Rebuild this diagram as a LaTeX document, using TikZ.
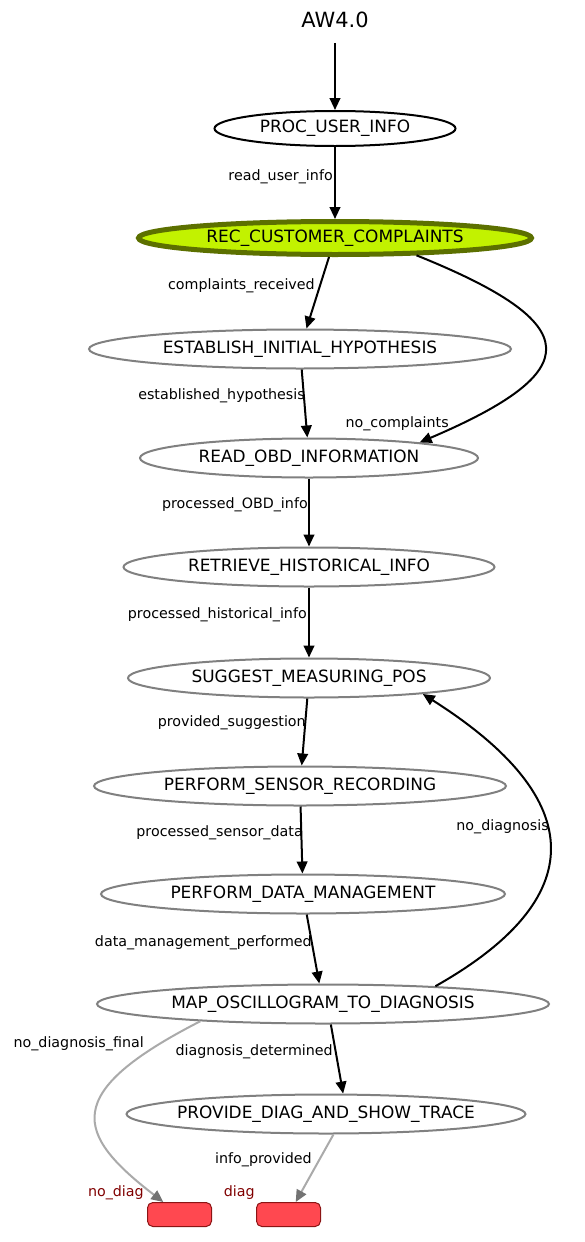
\documentclass[tikz,border=0pt]{standalone}
\usepackage{fontspec}
\setmainfont{DejaVu Sans}
\usetikzlibrary{shapes.geometric,arrows.meta}
\definecolor{limefill}{RGB}{194,242,0}
\definecolor{limeedge}{RGB}{92,112,0}
\definecolor{stategray}{RGB}{128,128,128}
\definecolor{edgegray}{RGB}{170,170,170}
\definecolor{headgray}{RGB}{115,115,115}
\definecolor{endfill}{RGB}{255,72,80}
\definecolor{endedge}{RGB}{139,20,20}
\definecolor{endtext}{RGB}{128,0,0}
\newcommand{\nm}[1]{\makebox[0pt]{#1}}

\begin{document}
\begin{tikzpicture}[x=0.75pt, y=-0.75pt,
        state/.style={ellipse, draw=stategray, line width=1.5pt, minimum height=29.25pt, inner sep=0pt, font=\fontsize{12.7}{15}\selectfont},
        start/.style={state, draw=black},
        active/.style={state, draw=limeedge, fill=limefill, line width=3.75pt, minimum height=24.75pt},
        endbox/.style={rectangle, draw=endedge, fill=endfill, line width=0.75pt, rounded corners=4pt, minimum width=48pt, minimum height=18pt, inner sep=0pt},
        arrow/.style={line width=1.5pt, -{Triangle[length=9pt, width=8pt]}},
        grayarrow/.style={line width=1.5pt, draw=edgegray, -{Triangle[length=9pt, width=8pt, color=headgray]}},
        elabel/.style={font=\fontsize{10.7}{13}\selectfont, inner sep=0pt, anchor=base east},
        endlabel/.style={elabel, text=endtext}
    ]
        \useasboundingbox (0,0) rectangle (585,1242);

        \node[font=\fontsize{15.7}{19}\selectfont, inner sep=0pt] (title) at (335,20) {AW4.0};
        \node[start, minimum width=180.75pt, minimum height=26.25pt] (proc) at (335,128.5) {\nm{PROC\_USER\_INFO}};
        \node[active, minimum width=294.75pt] (rec) at (335,238) {\nm{REC\_CUSTOMER\_COMPLAINTS}};
        \node[state, minimum width=316.5pt] (est) at (300,349) {\nm{ESTABLISH\_INITIAL\_HYPOTHESIS}};
        \node[state, minimum width=253.5pt] (read) at (309,458) {\nm{READ\_OBD\_INFORMATION}};
        \node[state, minimum width=278.25pt] (retr) at (309,567) {\nm{RETRIEVE\_HISTORICAL\_INFO}};
        \node[state, minimum width=271.5pt] (sug) at (309,678) {\nm{SUGGEST\_MEASURING\_POS}};
        \node[state, minimum width=309pt] (sens) at (300,786) {\nm{PERFORM\_SENSOR\_RECORDING}};
        \node[state, minimum width=303pt] (data) at (303,894) {\nm{PERFORM\_DATA\_MANAGEMENT}};
        \node[state, minimum width=339pt] (map) at (323,1004) {\nm{MAP\_OSCILLOGRAM\_TO\_DIAGNOSIS}};
        \node[state, minimum width=299.25pt] (prov) at (326,1114) {\nm{PROVIDE\_DIAG\_AND\_SHOW\_TRACE}};
        \node[endbox] (nodiag) at (179.5,1214.5) {};
        \node[endbox] (diag) at (288.5,1214.5) {};

        % edge labels
        \node[elabel] (l-read) at (333,180) {read\_user\_info};
        \node[elabel] (l-compl) at (315,289) {complaints\_received};
        \node[elabel] (l-nocompl) at (449,427) {no\_complaints};
        \node[elabel] (l-hyp) at (305,399) {established\_hypothesis};
        \node[elabel] (l-obd) at (308,508) {processed\_OBD\_info};
        \node[elabel] (l-hist) at (307,618) {processed\_historical\_info};
        \node[elabel] (l-sugg) at (306,726) {provided\_suggestion};
        \node[elabel] (l-sens) at (303,836) {processed\_sensor\_data};
        \node[elabel] (l-data) at (312,946) {data\_management\_performed};
        \node[elabel] (l-nodiagn) at (549,830) {no\_diagnosis};
        \node[elabel] (l-final) at (144,1047) {no\_diagnosis\_final};
        \node[elabel] (l-det) at (333,1055) {diagnosis\_determined};
        \node[elabel] (l-info) at (312,1163) {info\_provided};
        \node[endlabel] (l-nodiag) at (144,1196) {no\_diag};
        \node[endlabel] (l-diag) at (255,1196) {diag};

        \draw[arrow, shorten <=11pt] (title) -- (proc);
        \draw[arrow] (proc) -- (rec);
        \draw[arrow] (rec) -- (est);
        \draw[arrow] (rec.-12) .. controls (587,324) and (587,371) .. (read.8);
        \draw[arrow] (est) -- (read);
        \draw[arrow] (read) -- (retr);
        \draw[arrow] (retr) -- (sug);
        \draw[arrow] (sug) -- (sens);
        \draw[arrow] (sens) -- (data);
        \draw[arrow] (data) -- (map);
        \draw[arrow] (map.9) .. controls (590,899) and (590,800) .. (sug.-8);
        \draw[arrow] (map.-69) -- (prov.50);
        \draw[grayarrow] (map.188) .. controls (60,1093) and (75,1134) .. (nodiag);
        \draw[grayarrow] (prov.-70) -- (diag.60);
    \end{tikzpicture}
\end{document}
